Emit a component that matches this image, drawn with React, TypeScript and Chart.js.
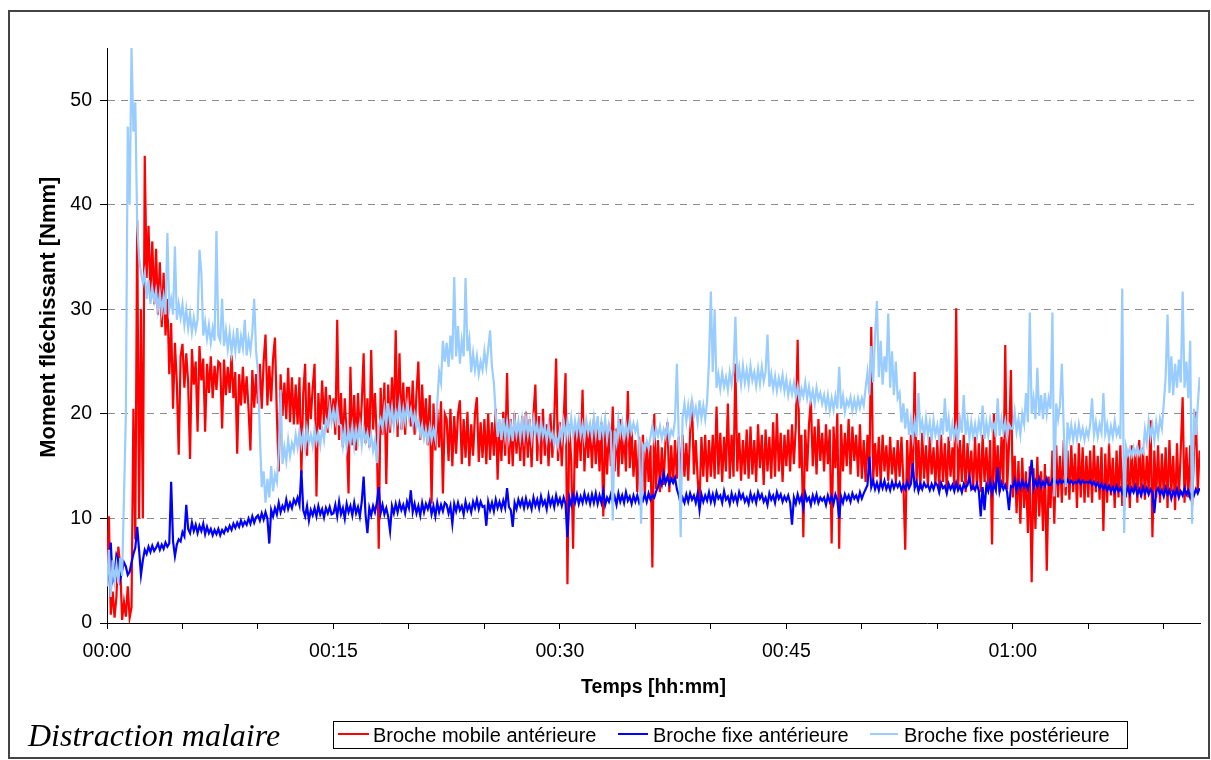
import React, { useEffect, useRef } from "react";
import { Chart, registerables } from "chart.js";

Chart.register(...registerables);

// Sampling step of the recordings (minutes between two samples)
const SAMPLE_STEP_MIN = 0.125;
const X_MAX_MIN = 72.4;
const Y_MAX = 55;

const SERIES_NAMES = [
  "Broche mobile antérieure",
  "Broche fixe antérieure",
  "Broche fixe postérieure",
];
const SERIES_COLORS = ["#FF0000", "#0000FF", "#99CCFF"];

const X_TITLE = "Temps [hh:mm]";
const Y_TITLE = "Moment fléchissant [Nmm]";
const CAPTION = "Distraction malaire";

// Broche mobile antérieure [Nmm] (one row = 2.5 min)
const MOBILE_ANT = [
  4.0, 10.2, 0.8, 3.0, 0.5, 2.5, 7.3, 5.5, 0.3, 2.0, 0.6, 3.5, 0.5, 1.5, 20.5, 8.0, 38.5, 10.0, 30.0, 10.0,
  44.7, 33.0, 38.0, 31.5, 36.5, 30.5, 35.8, 29.5, 34.5, 28.3, 33.5, 27.5, 31.0, 23.8, 28.7, 20.5, 26.8, 23.0, 16.1, 25.5,
  26.7, 22.5, 25.8, 23.0, 15.7, 26.2, 22.8, 25.0, 18.3, 26.5, 23.2, 25.3, 18.3, 24.8, 22.0, 25.5, 21.5, 24.6, 22.3, 25.0,
  24.8, 18.6, 25.2, 21.8, 24.5, 22.0, 25.6, 21.5, 24.0, 16.2, 23.8, 20.8, 24.5, 21.0, 23.6, 20.5, 16.5, 24.2, 20.6, 23.8,
  21.0, 24.8, 20.5, 25.0, 27.6, 20.8, 24.6, 21.2, 25.3, 27.3, 20.0, 14.5, 23.8, 19.8, 23.0, 19.5, 24.4, 19.2, 23.5, 19.0,
  22.8, 19.0, 23.5, 14.2, 22.0, 24.8, 16.0, 23.0, 19.5, 22.5, 24.8, 12.1, 22.0, 18.5, 23.2, 19.0, 22.6, 18.2, 21.8, 19.5,
  21.5, 18.0, 29.0, 17.5, 22.0, 16.8, 21.5, 18.0, 12.4, 24.5, 17.0, 21.8, 16.5, 22.0, 17.8, 21.0, 25.8, 17.2, 21.5, 16.8,
  26.1, 18.5, 22.0, 17.5, 7.1, 22.5, 18.0, 23.0, 13.3, 22.8, 18.2, 23.5, 19.0, 28.0, 17.8, 25.8, 18.5, 23.0, 18.0, 22.5,
  22.5, 18.8, 23.2, 18.0, 22.0, 25.0, 17.5, 22.8, 18.2, 21.5, 17.0, 21.8, 11.4, 21.0, 16.5, 20.5, 16.8, 21.2, 12.4, 20.0,
  19.5, 15.5, 20.5, 15.0, 19.8, 16.2, 20.0, 21.3, 15.2, 19.5, 15.8, 20.2, 15.0, 19.0, 16.0, 20.0, 21.6, 15.4, 19.2, 15.8,
  19.5, 15.2, 20.0, 15.6, 19.2, 16.0, 20.5, 13.7, 19.0, 15.5, 20.2, 16.0, 23.9, 15.2, 19.5, 15.0, 20.0, 16.2, 19.0, 15.5,
  19.8, 15.0, 20.2, 15.8, 19.5, 14.9, 20.0, 22.8, 15.5, 19.8, 15.2, 20.5, 16.0, 19.0, 15.0, 20.0, 15.8, 19.5, 25.3, 15.5,
  19.2, 15.0, 19.5, 23.9, 3.7, 19.0, 15.5, 7.1, 18.5, 14.8, 19.2, 15.5, 22.3, 14.5, 19.0, 15.8, 18.8, 14.8, 19.5, 15.2,
  18.8, 14.5, 19.2, 10.2, 18.5, 14.2, 19.0, 15.0, 20.7, 14.5, 18.6, 14.0, 19.5, 15.2, 18.2, 14.5, 22.2, 14.8, 18.5, 14.0,
  17.5, 12.5, 17.8, 13.0, 18.0, 12.2, 17.2, 13.5, 17.0, 5.3, 20.0, 12.8, 17.5, 12.5, 16.8, 13.2, 17.5, 19.2, 12.5, 17.0,
  13.3, 17.5, 13.8, 17.8, 13.5, 18.0, 14.0, 17.2, 13.6, 18.2, 21.3, 14.2, 17.5, 13.8, 11.5, 17.8, 14.0, 18.0, 13.5, 17.5,
  14.0, 18.0, 13.8, 20.7, 14.2, 18.2, 13.5, 17.8, 14.5, 21.0, 13.8, 18.0, 14.0, 24.8, 14.5, 18.2, 13.6, 17.5, 14.2, 18.5,
  13.8, 18.8, 14.2, 17.5, 13.5, 19.0, 14.8, 18.0, 13.2, 18.5, 14.5, 17.8, 13.8, 19.2, 14.0, 20.0, 14.5, 18.2, 13.5, 18.0,
  15.0, 18.5, 14.5, 19.0, 15.2, 18.8, 27.1, 14.8, 18.0, 8.2, 18.5, 14.5, 19.0, 21.3, 15.0, 18.8, 14.2, 19.5, 15.5, 18.2,
  14.5, 19.0, 15.2, 18.5, 7.6, 18.8, 14.8, 20.0, 7.1, 19.0, 14.5, 18.2, 15.0, 19.5, 14.2, 18.8, 15.5, 18.0, 14.0, 19.0,
  13.8, 17.5, 13.5, 18.0, 14.2, 28.3, 13.5, 17.2, 14.0, 17.8, 13.3, 18.0, 14.5, 17.0, 13.6, 17.8, 14.2, 16.8, 13.5, 17.5,
  14.0, 17.8, 13.5, 7.0, 17.5, 13.2, 18.0, 14.0, 24.0, 13.5, 17.5, 12.8, 18.2, 13.8, 17.0, 13.0, 17.8, 14.2, 16.8, 13.2,
  17.5, 12.8, 18.0, 13.5, 17.2, 12.7, 17.8, 14.0, 16.8, 13.0, 30.1, 12.8, 17.5, 13.5, 18.0, 12.5, 17.2, 13.8, 16.5, 12.7,
  17.8, 13.0, 17.2, 12.5, 18.0, 13.5, 16.8, 12.8, 17.5, 7.5, 20.0, 13.0, 17.0, 12.5, 17.8, 13.2, 26.6, 12.8, 17.0, 24.2,
  12.0, 16.0, 10.5, 15.5, 9.5, 15.8, 11.0, 14.5, 8.6, 15.0, 3.9, 14.8, 9.0, 15.9, 10.2, 14.5, 8.8, 15.2, 5.0, 14.0,
  11.0, 16.5, 9.5, 17.0, 12.0, 16.0, 11.5, 17.5, 12.2, 16.5, 11.8, 17.0, 12.5, 16.2, 11.0, 17.2, 12.0, 16.8, 11.5, 16.0,
  12.0, 16.5, 11.5, 17.0, 12.5, 16.0, 11.8, 16.8, 8.8, 16.2, 11.5, 17.2, 12.2, 15.8, 11.0, 16.5, 12.0, 17.0, 11.2, 16.0,
  12.0, 16.5, 11.0, 17.0, 12.5, 16.2, 11.5, 17.5, 12.0, 16.8, 11.8, 16.0, 12.5, 19.4, 8.2, 16.5, 12.0, 17.0, 11.5, 16.2,
  12.2, 16.8, 11.0, 17.5, 12.5, 16.0, 10.8, 17.2, 12.0, 16.5, 21.6, 11.5, 16.8, 12.0, 17.0, 11.2, 16.2, 20.2, 12.5, 16.5,
];

// Broche fixe antérieure [Nmm]
const FIXE_ANT = [
  3.5, 6.0, 7.7, 4.0, 4.5, 6.5, 6.0, 4.2, 5.0, 5.8, 5.4, 4.6, 4.9, 5.8, 6.6, 7.2, 9.2, 7.0, 4.6, 6.0,
  7.0, 6.6, 7.3, 6.8, 7.4, 6.9, 7.2, 7.6, 7.0, 7.5, 7.1, 7.7, 7.3, 7.6, 13.5, 7.8, 6.4, 7.5, 8.0, 7.8,
  8.7, 8.3, 11.3, 9.0, 8.6, 9.6, 8.8, 9.4, 8.6, 9.3, 8.8, 9.5, 8.5, 9.2, 8.6, 9.0, 8.4, 8.9, 8.5, 9.0,
  8.4, 8.9, 8.6, 9.1, 8.8, 9.3, 8.9, 9.5, 9.1, 9.6, 9.2, 9.8, 9.3, 9.7, 9.4, 10.0, 9.5, 10.2, 9.6, 10.1,
  10.3, 9.8, 10.5, 9.9, 10.6, 10.0, 7.6, 10.8, 10.2, 11.0, 10.4, 11.5, 10.6, 11.2, 10.8, 11.8, 10.9, 11.5, 11.0, 11.8,
  11.4, 12.0, 11.3, 14.6, 10.8, 10.2, 11.2, 9.8, 10.8, 10.3, 11.0, 10.2, 11.2, 10.4, 10.9, 10.1, 11.0, 10.5, 11.1, 10.4,
  10.5, 11.3, 10.2, 11.6, 10.4, 11.0, 10.0, 11.4, 10.6, 11.2, 10.3, 11.5, 10.5, 11.1, 10.2, 11.6, 14.0, 10.4, 8.6, 11.0,
  10.3, 11.2, 10.6, 11.5, 13.0, 10.5, 11.3, 10.4, 11.0, 10.2, 8.8, 11.2, 10.5, 11.4, 10.6, 11.5, 10.8, 11.3, 10.5, 11.6,
  11.0, 12.7, 10.6, 11.4, 10.5, 11.2, 10.3, 11.5, 10.6, 11.4, 10.9, 11.6, 10.4, 11.2, 10.2, 11.5, 10.6, 11.3, 10.7, 11.5,
  11.3, 10.5, 11.2, 9.5, 11.4, 10.7, 11.5, 10.8, 11.2, 10.4, 11.6, 10.8, 11.3, 10.6, 11.6, 11.0, 11.8, 10.9, 11.6, 11.1,
  11.2, 9.3, 11.6, 10.8, 11.5, 10.7, 11.8, 11.0, 11.6, 10.9, 11.7, 11.0, 12.9, 11.1, 10.8, 9.2, 11.5, 10.9, 11.8, 11.2,
  11.8, 11.0, 11.9, 11.1, 11.6, 10.9, 12.0, 11.2, 11.8, 11.0, 12.1, 11.3, 11.7, 10.9, 12.2, 11.3, 11.9, 11.1, 12.2, 11.4,
  11.9, 11.2, 12.0, 11.4, 8.2, 12.0, 11.3, 12.2, 11.5, 12.3, 11.4, 12.1, 11.5, 12.4, 11.6, 12.2, 11.4, 12.3, 11.5, 12.4,
  11.4, 12.2, 11.5, 12.6, 11.3, 12.0, 11.6, 12.3, 11.5, 12.1, 11.3, 12.4, 11.6, 12.2, 11.5, 12.5, 11.7, 12.1, 11.4, 12.2,
  11.6, 12.2, 11.5, 12.0, 11.7, 12.3, 11.6, 12.4, 11.8, 12.2, 12.0, 12.6, 13.0, 13.8, 13.2, 14.3, 13.4, 14.0, 13.3, 13.8,
  13.4, 13.9, 12.8, 12.2, 11.4, 12.0, 11.5, 12.3, 11.6, 12.4, 11.8, 12.2, 11.5, 12.4, 10.8, 12.3, 11.6, 12.2, 11.7, 12.5,
  11.6, 12.3, 11.5, 12.5, 11.9, 12.2, 11.5, 12.6, 11.8, 12.1, 11.4, 12.4, 11.7, 12.2, 11.5, 12.5, 11.9, 12.3, 11.6, 12.0,
  11.4, 12.4, 11.7, 12.2, 11.5, 12.5, 11.9, 12.3, 11.6, 12.0, 11.3, 12.4, 11.8, 12.2, 11.5, 12.5, 11.9, 12.3, 11.6, 12.1,
  11.7, 12.2, 11.5, 9.4, 12.0, 11.4, 12.3, 11.6, 12.1, 11.0, 12.4, 11.7, 12.0, 11.3, 12.2, 11.6, 12.3, 11.5, 12.0, 11.7,
  12.0, 11.3, 12.2, 11.6, 12.1, 11.4, 12.3, 11.8, 10.0, 12.1, 11.5, 12.3, 11.8, 12.2, 11.6, 12.4, 11.9, 12.2, 11.7, 12.5,
  11.9, 12.4, 12.8, 13.2, 15.9, 13.0, 13.6, 12.8, 13.4, 12.7, 13.5, 12.9, 13.6, 12.8, 13.3, 12.7, 13.5, 12.9, 13.4, 13.0,
  13.4, 12.7, 13.2, 12.8, 13.5, 12.9, 13.3, 15.3, 12.9, 13.5, 12.6, 13.3, 12.8, 13.4, 13.0, 13.2, 12.7, 13.3, 12.8, 13.4,
  13.2, 12.5, 13.4, 12.9, 13.1, 12.4, 13.3, 12.8, 13.2, 12.6, 13.4, 12.7, 13.1, 12.5, 13.3, 12.9, 13.2, 14.0, 12.8, 13.1,
  12.7, 13.3, 12.6, 10.2, 13.0, 10.8, 13.2, 12.6, 13.5, 12.4, 13.3, 12.7, 14.9, 12.6, 13.4, 12.8, 13.2, 12.5, 10.8, 13.1,
  13.0, 13.7, 12.7, 13.5, 12.9, 13.6, 13.0, 13.4, 12.8, 13.7, 15.6, 12.9, 13.6, 13.1, 13.8, 13.0, 13.5, 13.1, 13.8, 13.2,
  13.2, 13.7, 13.4, 13.6, 13.3, 13.7, 13.4, 13.6, 13.3, 13.7, 13.4, 13.6, 13.3, 13.5, 13.4, 13.7, 13.3, 13.6, 13.4, 13.5,
  13.4, 13.6, 13.2, 13.5, 13.1, 13.4, 12.9, 13.3, 12.8, 13.2, 12.7, 13.1, 12.6, 13.0, 12.5, 13.1, 12.6, 12.9, 12.4, 13.0,
  12.4, 13.0, 12.3, 12.9, 12.5, 13.1, 12.3, 12.8, 12.2, 13.0, 12.4, 12.9, 12.3, 12.8, 12.5, 10.5, 12.6, 12.9, 12.3, 12.7,
  12.1, 12.9, 12.3, 12.7, 11.9, 12.6, 12.2, 12.8, 12.0, 12.6, 12.2, 12.9, 12.3, 12.7, 12.0, 12.6, 12.2, 12.8, 12.4, 12.9,
];

// Broche fixe postérieure [Nmm]
const FIXE_POST = [
  3.5, 7.0, 2.5, 6.0, 4.0, 5.5, 3.8, 6.2, 4.5, 12.0, 20.0, 47.5, 40.0, 55.0, 47.0, 49.8, 38.0, 35.0, 33.5, 32.5,
  33.5, 31.0, 32.8, 30.5, 32.0, 30.8, 31.8, 30.0, 31.5, 29.8, 31.2, 29.5, 37.3, 30.0, 31.0, 29.5, 36.0, 29.0, 30.5, 29.2,
  30.5, 28.5, 30.0, 28.2, 29.6, 27.8, 29.2, 28.0, 29.0, 35.7, 33.5, 27.5, 28.8, 27.2, 28.5, 26.8, 28.2, 27.0, 37.5, 27.5,
  27.0, 31.0, 26.5, 28.0, 26.2, 27.8, 25.9, 27.5, 26.0, 28.2, 25.8, 27.4, 26.3, 29.0, 25.6, 27.2, 26.0, 27.8, 31.0, 26.0,
  24.0, 18.0, 13.0, 14.5, 11.5, 13.8, 12.0, 15.0, 12.6, 14.2, 13.5, 16.2, 22.3, 15.2, 16.8, 15.5, 17.5, 16.0, 17.2, 16.5,
  18.0, 16.8, 18.4, 17.0, 18.2, 16.6, 18.5, 17.2, 18.0, 16.9, 18.6, 17.3, 18.2, 17.0, 18.7, 17.5, 19.4, 18.8, 20.6, 19.2,
  20.4, 19.3, 20.6, 19.0, 18.9, 17.0, 18.6, 16.8, 18.4, 17.2, 18.8, 16.9, 18.5, 17.3, 18.9, 17.0, 18.6, 17.4, 18.2, 17.0,
  18.0, 16.5, 17.5, 15.3, 18.8, 19.5, 18.6, 20.5, 19.0, 21.0, 19.2, 20.6, 18.8, 20.3, 19.4, 21.0, 19.0, 20.5, 19.3, 20.8,
  19.6, 20.4, 19.0, 20.0, 18.7, 19.5, 18.0, 18.9, 17.6, 18.5, 17.4, 18.7, 17.5, 18.5, 17.6, 21.0, 24.0, 23.0, 27.0, 25.0,
  26.8, 24.5, 27.5, 25.2, 33.1, 25.5, 28.4, 24.8, 27.0, 25.5, 33.0, 26.0, 27.2, 24.0, 25.8, 24.2, 25.5, 23.8, 25.0, 24.2,
  26.0, 24.5, 26.2, 28.0, 24.5, 23.0, 20.0, 17.8, 19.5, 17.5, 19.6, 17.8, 19.2, 17.6, 19.0, 17.4, 19.5, 18.0, 19.3, 17.7,
  19.5, 17.8, 19.6, 18.0, 19.2, 17.6, 19.4, 18.1, 19.0, 17.5, 19.3, 17.9, 18.8, 17.4, 19.0, 17.6, 18.2, 17.0, 17.8, 16.9,
  18.6, 17.5, 19.2, 17.8, 19.4, 18.0, 19.6, 17.8, 19.3, 18.1, 19.5, 17.9, 19.0, 17.6, 19.4, 18.2, 19.1, 17.8, 19.6, 18.0,
  19.8, 17.5, 19.2, 18.0, 19.5, 17.6, 19.0, 18.2, 9.8, 18.4, 17.3, 19.5, 18.1, 19.2, 17.7, 19.0, 17.9, 19.4, 18.3, 19.1,
  18.3, 19.0, 17.2, 9.5, 17.0, 16.6, 17.4, 16.7, 17.8, 18.9, 17.5, 18.6, 17.9, 18.8, 17.6, 18.5, 17.8, 19.0, 17.5, 18.4,
  18.0, 19.5, 24.8, 17.5, 8.2, 19.6, 21.0, 19.3, 20.8, 19.4, 21.2, 19.8, 20.6, 19.2, 21.3, 19.6, 20.8, 19.5, 21.2, 25.0,
  31.7, 24.0, 30.0, 22.5, 23.8, 22.4, 23.9, 22.6, 23.5, 22.3, 24.0, 22.8, 24.2, 29.3, 23.0, 24.4, 22.8, 24.6, 23.0, 24.2,
  22.8, 24.6, 23.2, 24.0, 22.7, 24.3, 22.9, 24.5, 23.1, 24.0, 27.6, 22.6, 23.8, 22.4, 23.6, 22.2, 23.4, 22.5, 23.7, 22.2,
  23.3, 21.8, 22.9, 21.9, 23.0, 21.6, 22.6, 21.2, 22.4, 21.7, 23.0, 21.5, 22.6, 21.3, 22.2, 21.0, 22.5, 21.4, 22.0, 21.0,
  21.8, 20.6, 21.8, 20.3, 21.5, 20.4, 21.7, 20.5, 24.5, 20.5, 21.7, 20.2, 21.3, 20.8, 21.6, 20.3, 21.4, 20.4, 21.5, 20.6,
  21.5, 20.8, 22.5, 24.0, 21.8, 26.5, 23.0, 27.5, 30.8, 23.5, 27.0, 22.8, 25.5, 24.0, 29.6, 22.5, 26.0, 21.8, 25.0, 21.5,
  22.0, 19.2, 21.0, 18.6, 20.5, 18.0, 19.5, 17.6, 19.3, 17.8, 22.0, 18.4, 19.3, 17.8, 19.6, 18.0, 19.2, 17.5, 19.4, 18.0,
  18.9, 17.5, 19.6, 18.0, 21.5, 18.3, 19.6, 17.4, 19.0, 17.8, 18.8, 17.5, 19.5, 18.2, 21.8, 18.0, 19.4, 17.6, 19.2, 17.8,
  19.0, 17.8, 19.3, 18.2, 20.8, 17.6, 19.2, 17.9, 19.5, 18.5, 19.0, 17.8, 21.5, 17.9, 19.5, 18.2, 19.3, 17.8, 19.0, 18.6,
  18.6, 20.2, 18.3, 19.5, 18.0, 20.0, 19.0, 22.0, 19.2, 29.7, 20.0, 21.5, 19.5, 24.4, 19.8, 21.8, 19.5, 22.0, 20.0, 21.5,
  20.5, 29.7, 12.1, 21.0, 19.5, 20.8, 24.8, 18.5, 13.0, 19.2, 17.6, 18.9, 17.5, 18.8, 17.6, 19.0, 17.8, 18.6, 17.5, 18.5,
  17.8, 19.0, 21.5, 18.0, 19.2, 17.8, 19.0, 18.2, 22.0, 18.1, 19.0, 17.6, 18.8, 17.8, 19.3, 18.0, 18.6, 17.6, 32.0, 8.6,
  16.9, 16.1, 16.7, 16.0, 16.8, 16.2, 16.9, 16.1, 16.6, 16.3, 18.5, 17.2, 19.3, 17.8, 18.9, 17.4, 19.2, 17.9, 19.5, 18.6,
  21.0, 23.5, 29.5, 22.0, 25.5, 21.8, 24.8, 22.5, 25.2, 23.0, 31.7, 22.5, 25.0, 21.5, 27.0, 9.5, 20.5, 18.0, 20.8, 23.5,
];

const FONT = "'Liberation Sans', Arial, Helvetica, sans-serif";

function pad2(n: number) {
  return (n < 10 ? "0" : "") + n;
}
function formatMinutes(v: number) {
  const m = Math.round(v);
  return pad2(Math.floor(m / 60)) + ":" + pad2(m % 60);
}

export default function App() {
  const canvasRef = useRef<HTMLCanvasElement>(null);

  useEffect(() => {
    const canvas = canvasRef.current;
    if (!canvas) return;
    const toPoints = (vals: number[]) =>
      vals.map((y, i) => ({ x: i * SAMPLE_STEP_MIN, y }));
    const seriesValues = [MOBILE_ANT, FIXE_ANT, FIXE_POST];
    const orders = [3, 2, 1];

    const chart = new Chart(canvas, {
      type: "line",
      data: {
        datasets: seriesValues.map((vals, k) => ({
          label: SERIES_NAMES[k],
          data: toPoints(vals),
          borderColor: SERIES_COLORS[k],
          backgroundColor: SERIES_COLORS[k],
          borderWidth: 2.2,
          pointRadius: 0,
          pointHoverRadius: 0,
          tension: 0,
          fill: false,
          order: orders[k],
        })),
      },
      options: {
        responsive: false,
        animation: false,
        devicePixelRatio: 1,
        events: [],
        layout: { padding: { left: 36, top: 48, right: 11, bottom: 61 } },
        plugins: {
          legend: { display: false },
          tooltip: { enabled: false },
          title: { display: false },
        },
        scales: {
          x: {
            type: "linear",
            min: 0,
            max: X_MAX_MIN,
            afterFit: (s: any) => {
              s.height = 76;
            },
            ticks: {
              stepSize: 5,
              autoSkip: false,
              maxRotation: 0,
              minRotation: 0,
              includeBounds: false,
              padding: 11,
              color: "#000",
              font: { family: FONT, size: 19.5 },
              callback: (v: any) => {
                const n = Number(v);
                return Math.abs(n % 15) < 1e-6 ? formatMinutes(n) : "";
              },
            },
            grid: {
              display: true,
              drawOnChartArea: false,
              drawTicks: true,
              tickLength: 6,
              tickColor: "#000",
              tickWidth: 1,
            },
            border: { display: true, color: "#000", width: 1 },
            title: {
              display: true,
              text: X_TITLE,
              color: "#000",
              padding: 0,
              font: { family: FONT, size: 19.5, weight: "bold" },
            },
          },
          y: {
            type: "linear",
            min: 0,
            max: Y_MAX,
            afterFit: (s: any) => {
              s.width = 71;
            },
            ticks: {
              stepSize: 10,
              includeBounds: false,
              padding: 8,
              color: "#000",
              font: { family: FONT, size: 19.5 },
            },
            grid: {
              display: true,
              drawOnChartArea: true,
              drawTicks: true,
              tickLength: 7,
              tickColor: "#000",
              tickWidth: 1,
              lineWidth: 1,
              color: (ctx: any) =>
                ctx.tick && ctx.tick.value === 0 ? "rgba(0,0,0,0)" : "#8c8c8c",
            },
            border: { display: true, color: "#000", width: 1, dash: [7, 6] },
            title: {
              display: true,
              text: "      " + Y_TITLE,
              color: "#000",
              padding: 0,
              font: { family: FONT, size: 22, weight: "bold" },
            },
          },
        },
      } as any,
    });
    return () => chart.destroy();
  }, []);

  const legendItems = [
    { line: 4, lineW: 31, text: 39 },
    { line: 284, lineW: 30, text: 319 },
    { line: 536, lineW: 28, text: 570 },
  ];

  return (
    <div
      style={{
        position: "fixed",
        left: 0,
        top: 0,
        width: 1211,
        height: 760,
        background: "#fff",
        overflow: "hidden",
      }}
    >
      <canvas
        ref={canvasRef}
        width={1211}
        height={760}
        style={{ position: "absolute", left: 0, top: 0, width: 1211, height: 760 }}
      />
      <div
        style={{
          position: "absolute",
          left: 8,
          top: 10,
          width: 1202,
          height: 749,
          border: "2px solid #444",
          boxSizing: "border-box",
          pointerEvents: "none",
        }}
      />
      <div
        style={{
          position: "absolute",
          left: 28,
          top: 719,
          fontFamily: "'Liberation Serif', 'Times New Roman', serif",
          fontStyle: "italic",
          fontSize: 32,
          lineHeight: "32px",
          color: "#000",
          whiteSpace: "nowrap",
        }}
      >
        {CAPTION}
      </div>
      <div
        style={{
          position: "absolute",
          left: 333,
          top: 721,
          width: 795,
          height: 28,
          border: "1px solid #000",
          boxSizing: "border-box",
          background: "#fff",
        }}
      >
        {legendItems.map((it, k) => (
          <React.Fragment key={k}>
            <div
              style={{
                position: "absolute",
                left: it.line,
                top: 11,
                width: it.lineW,
                height: 2,
                background: SERIES_COLORS[k],
              }}
            />
            <div
              style={{
                position: "absolute",
                left: it.text,
                top: 0,
                height: 26,
                lineHeight: "26px",
                fontFamily: FONT,
                fontSize: 20,
                color: "#000",
                whiteSpace: "nowrap",
              }}
            >
              {SERIES_NAMES[k]}
            </div>
          </React.Fragment>
        ))}
      </div>
    </div>
  );
}
